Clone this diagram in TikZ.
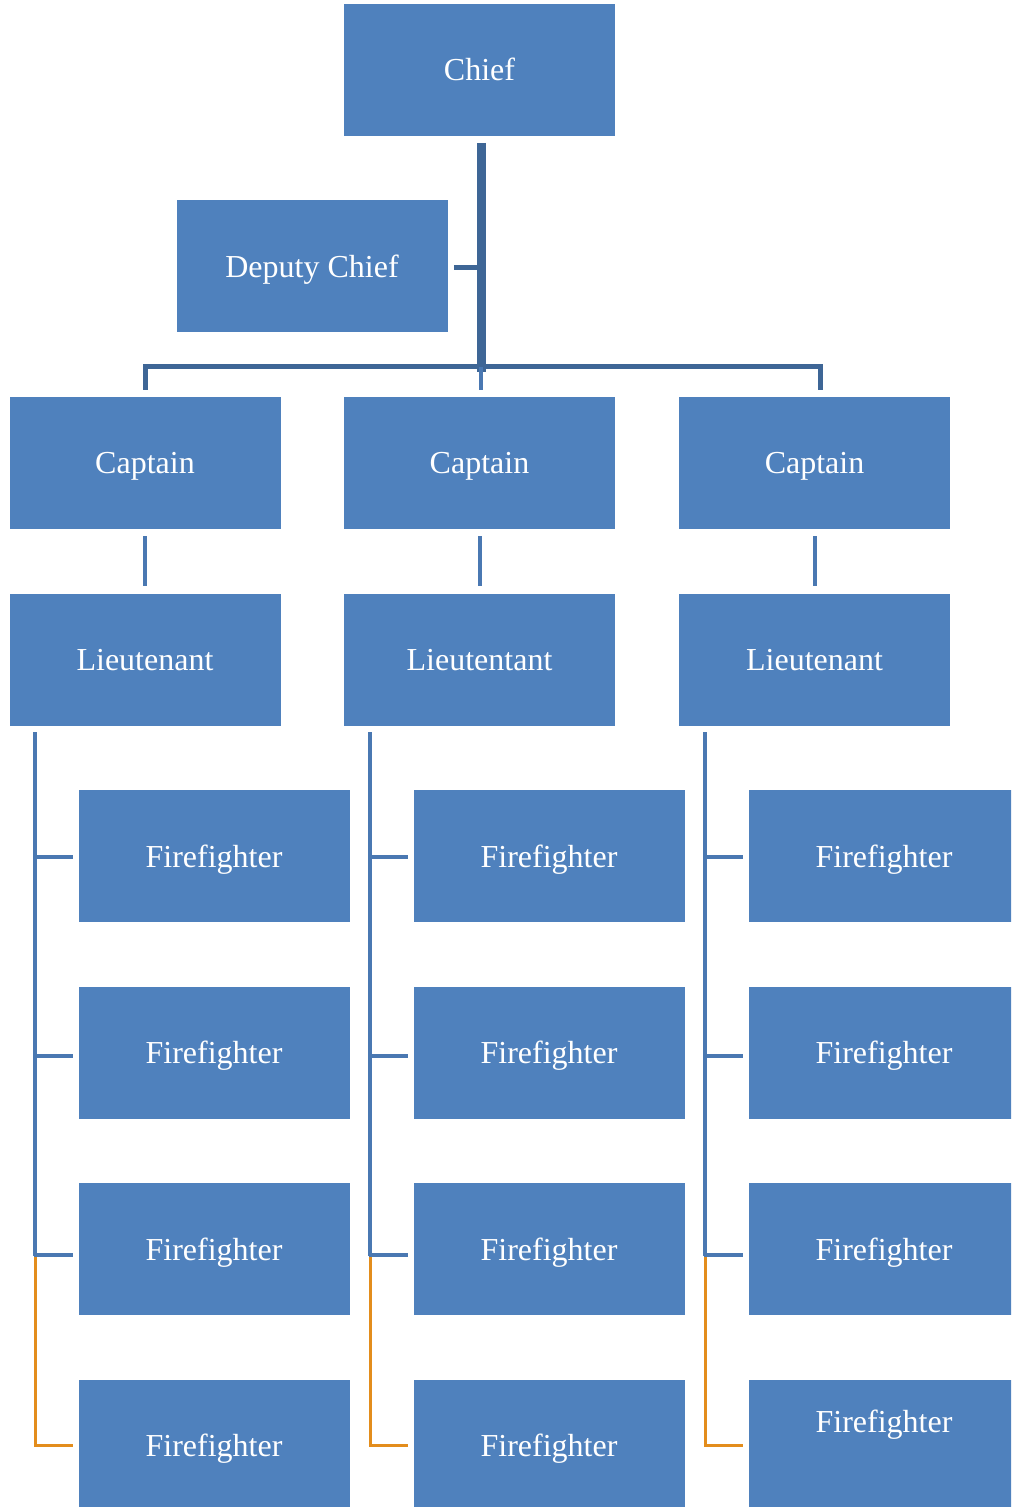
\documentclass[tikz,border=0pt]{standalone}
\usepackage{fontspec}
\setmainfont{Liberation Serif}
\usetikzlibrary{calc}
\definecolor{boxblue}{HTML}{4F81BD}
\definecolor{darkconn}{HTML}{3E6696}
\definecolor{conn}{HTML}{4A78B2}
\definecolor{orangeconn}{HTML}{E38D1C}
\tikzset{
  orgbox/.style={rectangle, fill=boxblue, minimum width=135.5pt, minimum height=66pt, inner sep=0pt, text=white, text height=11pt, text depth=0pt, font=\fontsize{16}{19}\selectfont},
  txt/.style={inner sep=0pt, text=white, text height=11pt, text depth=0pt, font=\fontsize{16}{19}\selectfont},
  thickconn/.style={draw=darkconn, line width=4.5pt},
  busconn/.style={draw=darkconn, line width=2.5pt},
  conn/.style={draw=conn, line width=2pt},
  oconn/.style={draw=orangeconn, line width=1.5pt}
}
\begin{document}
\begin{tikzpicture}[x=0.5pt, y=-0.5pt]
\useasboundingbox (0,0) rectangle (1011,1507);
\begin{scope}
\clip (0,0) rectangle (1011,1507);
% boxes
\node[orgbox] (chief) at (479.5,70) {Chief};
\node[orgbox] (deputy) at (312,266.5) {Deputy Chief};
\node[orgbox] (c1) at (145,463) {Captain};
\node[orgbox] (c2) at (479.5,463) {Captain};
\node[orgbox] (c3) at (814.5,463) {Captain};
\node[orgbox] (l1) at (145,659.5) {Lieutenant};
\node[orgbox] (l2) at (479.5,659.5) {Lieutentant};
\node[orgbox] (l3) at (814.5,659.5) {Lieutenant};
\foreach \col/\cx in {1/214, 2/549, 3/884}{
  \node[orgbox] (f\col1) at (\cx,856) {Firefighter};
  \node[orgbox] (f\col2) at (\cx,1052.5) {Firefighter};
  \node[orgbox] (f\col3) at (\cx,1249) {Firefighter};
}
\node[orgbox] (f14) at (214,1445.5) {Firefighter};
\node[orgbox] (f24) at (549,1445.5) {Firefighter};
\node[orgbox] (f34) at (884,1445.5) {};
\node[txt] (f34t) at (884,1421) {Firefighter};
\end{scope}
% top connectors
\coordinate (hubtop) at (481,143);
\coordinate (hub) at (481,367);
\coordinate (hubl) at (145,367);
\coordinate (hubr) at (820,367);
\draw[thickconn] (hubtop) -- (481,372);
\draw[busconn] (deputy.east) ++(6,1.5) -- (481,268);
\draw[busconn] (c1.north |- 0,390) -- (hubl) -- (hubr) -- (820,390);
\draw[conn] (hub) -- (481,390);
% captain -> lieutenant
\foreach \i in {1,2,3}{
  \draw[conn] ($(c\i.south)+(0,7)$) -- ($(l\i.north)+(0,-7)$);
}
% lieutenant -> firefighters
\foreach \i/\bx in {1/35, 2/370, 3/705}{
  \coordinate (top\i) at (\bx,732);
  \draw[conn] (top\i) -- (\bx,1256);
  \draw[conn] (\bx,857) -- ($(f\i1.west |- 0,857)+(-5,0)$);
  \draw[conn] (\bx,1056) -- ($(f\i2.west |- 0,1056)+(-5,0)$);
  \draw[conn] (\bx-1,1255) -- ($(f\i3.west |- 0,1255)+(-5,0)$);
  \draw[oconn] (\bx,1257) -- (\bx,1445) -- ($(f\i4.west |- 0,1445)+(-5,0)$);
}
\end{tikzpicture}
\end{document}
